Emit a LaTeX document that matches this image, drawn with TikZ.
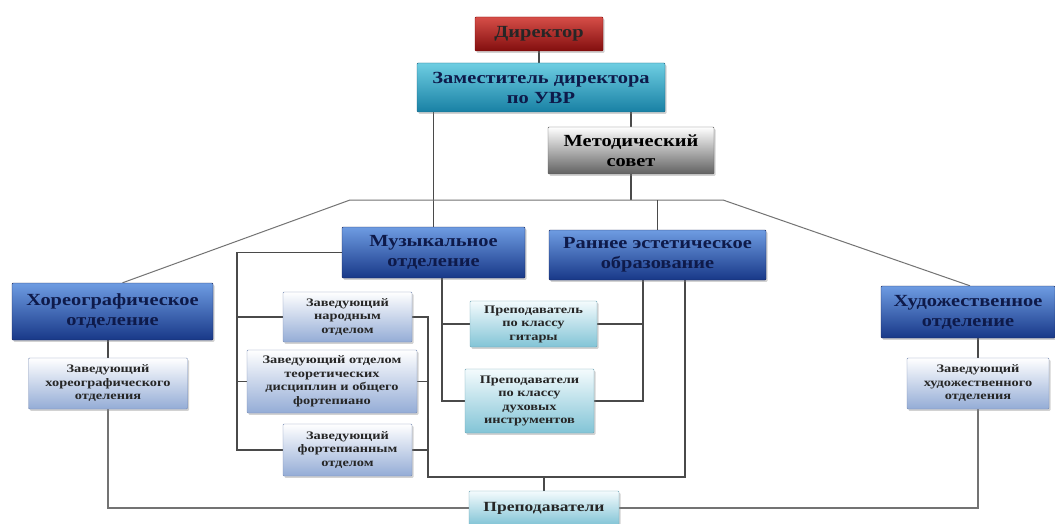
\documentclass[tikz,border=0pt]{standalone}
\usepackage{fontspec}
\setmainfont{Liberation Serif}
\newfontfamily\bigf{Liberation Serif}[FakeStretch=1.2]
\newfontfamily\smf{Liberation Serif}[FakeStretch=1.25]
\usetikzlibrary{shadows,calc}
\pgfdeclarelayer{bg}
\pgfsetlayers{bg,main}
\definecolor{lnc}{HTML}{4A4A4A}
\definecolor{navy}{HTML}{0E1A4A}
\tikzset{
  box/.style={draw, rounded corners=1pt, align=center, inner sep=1pt,
    drop shadow={shadow xshift=1.5pt, shadow yshift=-1.8pt, opacity=0.35}},
  bigtxt/.style={font=\bigf\bfseries\fontsize{17}{20}\selectfont},
  smtxt/.style={font=\smf\bfseries\fontsize{11.5}{13.5}\selectfont},
  dirbox/.style={box, bigtxt, draw=red!50!black, top color={rgb,255:red,214;green,78;blue,72},
    middle color={rgb,255:red,184;green,32;blue,32}, bottom color={rgb,255:red,130;green,14;blue,14}, text=black!85},
  zambox/.style={box, bigtxt, draw={rgb,255:red,26;green,100;blue,130}, top color={rgb,255:red,110;green,206;blue,226},
    middle color={rgb,255:red,48;green,168;blue,200}, bottom color={rgb,255:red,24;green,128;blue,164}, text=navy},
  metbox/.style={box, bigtxt, draw=black!65, top color=white, middle color=black!22, bottom color=black!62, text=black},
  depbox/.style={box, bigtxt, draw={rgb,255:red,22;green,36;blue,90}, top color={rgb,255:red,110;green,156;blue,226},
    middle color={rgb,255:red,46;green,98;blue,194}, bottom color={rgb,255:red,24;green,56;blue,136}, text=navy},
  subbox/.style={box, smtxt, draw={rgb,255:red,120;green,140;blue,180}, top color=white,
    bottom color={rgb,255:red,148;green,172;blue,214}, text=black!85},
  prepbox/.style={box, smtxt, draw={rgb,255:red,110;green,165;blue,180}, top color={rgb,255:red,244;green,251;blue,253},
    bottom color={rgb,255:red,130;green,196;blue,214}, text=black!85},
  conn/.style={draw=lnc, line width=1.2pt},
}
\begin{document}
\begin{tikzpicture}[x=1pt,y=-1pt]
\useasboundingbox (0,0) rectangle (1055,524);
% top
\node[dirbox, minimum width=128pt, minimum height=34pt] (dir) at (539,34) {Директор};
\node[zambox, minimum width=248pt, minimum height=49pt] (zam) at (541,87.5) {Заместитель директора\\по УВР};
\node[metbox, minimum width=166pt, minimum height=47pt] (met) at (631,150.5) {Методический\\совет};
% departments
\node[depbox, minimum width=183pt, minimum height=51pt] (mus) at (433.5,252.5) {Музыкальное\\отделение};
\node[depbox, minimum width=217pt, minimum height=50pt] (ran) at (657.5,255) {Раннее эстетическое\\образование};
\node[depbox, minimum width=201pt, minimum height=57pt] (hor) at (112.5,311.5) {Хореографическое\\отделение};
\node[depbox, minimum width=174pt, minimum height=52pt] (hud) at (968,312) {Художественное\\отделение};
% heads
\node[subbox, minimum width=159pt, minimum height=51pt] (zhor) at (108,383.5) {Заведующий\\хореографического\\отделения};
\node[subbox, minimum width=142pt, minimum height=51pt] (zhud) at (978,383.5) {Заведующий\\художественного\\отделения};
\node[subbox, minimum width=129pt, minimum height=50pt] (nar) at (347.5,317) {Заведующий\\народным\\отделом};
\node[subbox, minimum width=170pt, minimum height=63pt] (teo) at (332,381.5) {Заведующий отделом\\теоретических\\дисциплин и общего\\фортепиано};
\node[subbox, minimum width=129pt, minimum height=52pt] (fort) at (347.5,450) {Заведующий\\фортепианным\\отделом};
% teachers
\node[prepbox, minimum width=127pt, minimum height=46pt] (git) at (533.5,324) {Преподаватель\\по классу\\гитары};
\node[prepbox, minimum width=129pt, minimum height=64pt] (duh) at (529.5,401) {Преподаватели\\по классу\\духовых\\инструментов};
\node[prepbox, font=\smf\bfseries\fontsize{14}{16}\selectfont, minimum width=150pt, minimum height=34pt] (prep) at (544,508) {Преподаватели};
% helper coordinates
\coordinate (busL) at (350,200);
\coordinate (busR) at (723,200);
\coordinate (mL) at (237,250);
\coordinate (jR) at (428,477);
\coordinate (jE) at (685,477);
\coordinate (iL) at (442,401);
\coordinate (iR) at (643,401);
\begin{pgfonlayer}{bg}
\fill[white] (0,0) rectangle (1055,524);
\draw[conn] (dir.south) -- (dir.south |- zam.north);
\draw[conn] (mus.north) -- (mus.north |- zam.south);
\draw[conn] (met.north) -- (met.north |- zam.south);
\draw[conn] (met.south) -- (met.south |- busL);
\draw[conn, line width=1pt, draw=black!55] ($(hor.north)+(10,0)$) -- (busL) -- (busR) -- ($(hud.north)+(2,0)$);
\draw[conn] (ran.north) -- (ran.north |- busL);
\draw[conn] (zhor.north) -- (zhor.north |- hor.south);
\draw[conn] (zhud.north) -- (zhud.north |- hud.south);
\draw[conn, draw=black!55] (zhor.south) |- (prep.west);
\draw[conn, draw=black!55] (zhud.south) |- (prep.east);
% music bracket
\draw[conn] (mus.west) -- (mus.west -| mL) |- (fort.west);
\draw[conn] (nar.west) -- (nar.west -| mL);
\draw[conn] (teo.west) -- (teo.west -| mL);
% right joint to teachers
\draw[conn] (nar.east) -| (jR) -- (jE) -- (jE |- ran.south);
\draw[conn] (teo.east) -- (teo.east -| jR);
\draw[conn] (fort.east) -- (fort.east -| jR);
\draw[conn] (prep.north) -- (prep.north |- jR);
% inner teachers
\draw[conn] (iL |- mus.south) |- (duh.west);
\draw[conn] (git.west) -- (git.west -| iL);
\draw[conn] (iR |- ran.south) |- (duh.east);
\draw[conn] (git.east) -- (git.east -| iR);
\end{pgfonlayer}
\end{tikzpicture}
\end{document}
